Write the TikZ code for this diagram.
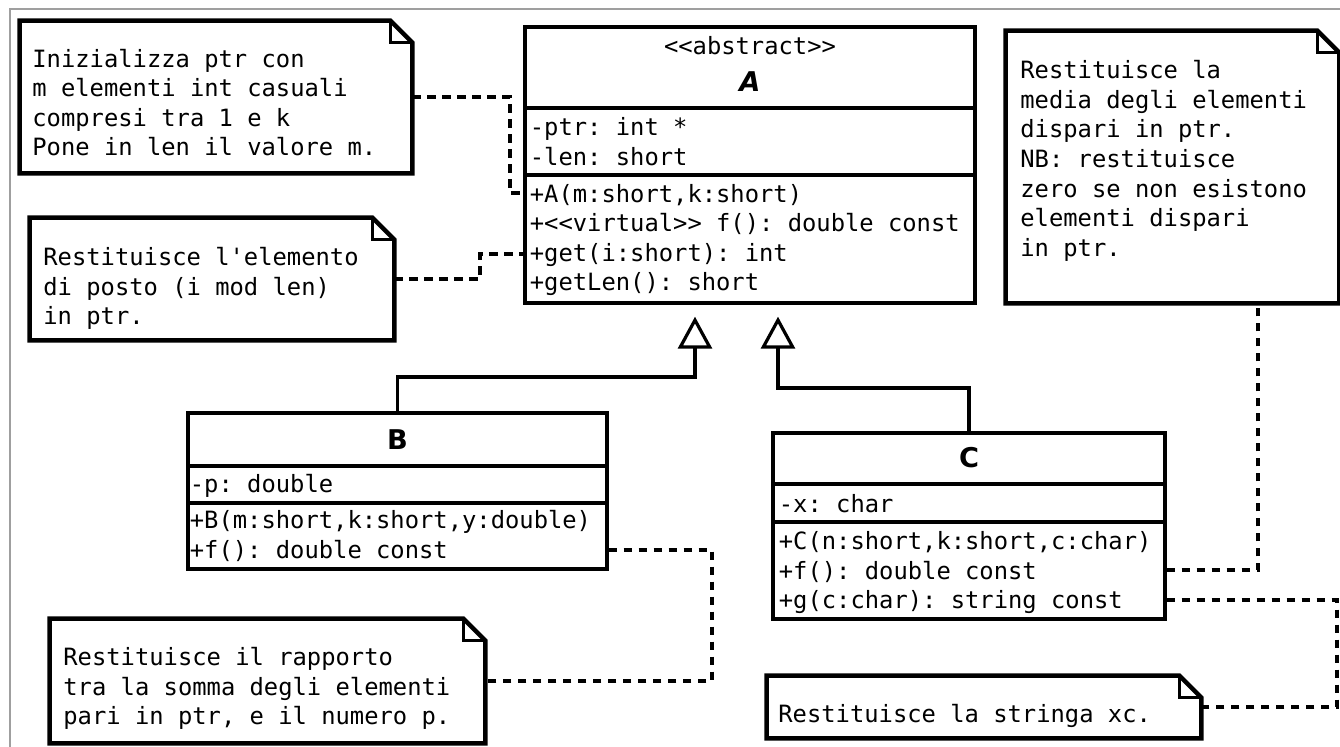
\documentclass[tikz,border=0pt]{standalone}
\usepackage{fontspec}
\setmonofont{DejaVu Sans Mono}
\newfontfamily\titlefam{DejaVu Sans}[BoldFont={DejaVu Sans Bold},ItalicFont={DejaVu Sans Oblique},BoldItalicFont={DejaVu Sans Bold Oblique}]
\usetikzlibrary{arrows.meta}
\newcommand\foldnote[1]{%
  \draw[noteline] (#1.north west) -- ([xshift=-11pt]#1.north east) -- ([yshift=-11pt]#1.north east) -- (#1.south east) -- (#1.south west) -- cycle;
  \draw[foldline] ([xshift=-11pt]#1.north east) |- ([yshift=-11pt]#1.north east);}
\begin{document}
\begin{tikzpicture}[x=0.5pt,y=-0.5pt,
  classbox/.style={draw, line width=1.7pt, fill=white, inner sep=0pt},
  notebox/.style={inner sep=0pt, fill=white},
  noteline/.style={line width=2.2pt, line join=miter},
  foldline/.style={line width=1.1pt},
  divider/.style={line width=1.7pt},
  txt/.style={inner sep=0pt, anchor=north west, align=left, font=\ttfamily\fontsize{11.9pt}{14.8pt}\selectfont},
  stereo/.style={inner sep=0pt, anchor=base, font=\ttfamily\fontsize{11.9pt}{14.8pt}\selectfont},
  cname/.style={inner sep=0pt, anchor=base, font=\titlefam\bfseries\fontsize{13.6pt}{16pt}\selectfont},
  conn/.style={line width=1.8pt, dash pattern=on 4.2pt off 3.3pt},
  inherit/.style={line width=1.6pt, -{Triangle[open, length=16pt, width=17pt]}, shorten >=6pt},
]
\useasboundingbox (0,0) rectangle (1340,747);
% outer frame
\draw[gray!75, line width=1pt] (9.5,747) -- (9.5,9.5) -- (1340,9.5);

% notes
\node[notebox, minimum width=196pt, minimum height=76pt] (N1) at (216,97) {};
\node[notebox, minimum width=182pt, minimum height=61pt] (N2) at (212,279) {};
\node[notebox, minimum width=166.5pt, minimum height=136pt] (NR) at (1172.5,167) {};
\node[notebox, minimum width=217.5pt, minimum height=62pt] (N3) at (267.5,681) {};
\node[notebox, minimum width=217pt, minimum height=31pt] (N4) at (984,707) {};
\foldnote{N1}\foldnote{N2}\foldnote{NR}\foldnote{N3}\foldnote{N4}

% classes
\node[classbox, minimum width=225pt, minimum height=138pt] (A) at (750,165) {};
\node[classbox, minimum width=209.5pt, minimum height=78pt] (B) at (397.5,491) {};
\node[classbox, minimum width=196pt, minimum height=93pt] (C) at (969,526) {};
\draw[divider] (A.west |- 0,108) -- (A.east |- 0,108);
\draw[divider] (A.west |- 0,175) -- (A.east |- 0,175);
\draw[divider] (B.west |- 0,466) -- (B.east |- 0,466);
\draw[divider] (B.west |- 0,503) -- (B.east |- 0,503);
\draw[divider] (C.west |- 0,484) -- (C.east |- 0,484);
\draw[divider] (C.west |- 0,522) -- (C.east |- 0,522);

% class texts
\node[stereo] (Ast) at (750,55) {<<abstract>>};
\node[cname, font=\titlefam\bfseries\itshape\fontsize{13.6pt}{16pt}\selectfont] (Aname) at (750,92) {A};
\node[txt] (Aattr) at (529.5,114.3) {\strut-ptr: int *\\-len: short};
\node[txt] (Ameth) at (529.5,181) {\strut+A(m:short,k:short)\\+<<virtual>> f(): double const\\+get(i:short): int\\+getLen(): short};
\node[cname] (Bname) at (397.5,449.5) {B};
\node[txt] (Battr) at (189.5,471) {\strut-p: double};
\node[txt] (Bmeth) at (189.5,507.6) {\strut+B(m:short,k:short,y:double)\\+f(): double const};
\node[cname] (Cname) at (969,468) {C};
\node[txt] (Cattr) at (778.5,491) {\strut-x: char};
\node[txt] (Cmeth) at (778.5,528.3) {\strut+C(n:short,k:short,c:char)\\+f(): double const\\+g(c:char): string const};

% note texts
\node[txt] (N1t) at (32,46) {\strut Inizializza ptr con\\m elementi int casuali\\compresi tra 1 e k\\Pone in len il valore m.};
\node[txt] (N2t) at (43,244.3) {\strut Restituisce l'elemento\\di posto (i mod len)\\in ptr.};
\node[txt] (NRt) at (1020,57.6) {\strut Restituisce la\\media degli elementi\\dispari in ptr.\\NB: restituisce\\zero se non esistono\\elementi dispari\\in ptr.};
\node[txt] (N3t) at (63,644.3) {\strut Restituisce il rapporto\\tra la somma degli elementi\\pari in ptr, e il numero p.};
\node[txt] (N4t) at (778,701) {\strut Restituisce la stringa xc.};

% note connectors
\coordinate (k1) at (510,193);
\coordinate (k2) at (480,254);
\coordinate (k3) at (712,550);
\coordinate (k4) at (1258,570);
\coordinate (k5) at (1337,600);
\draw[conn] (N1.east) -| (k1) -- (k1 -| A.west);
\draw[conn] (N2.east) -| (k2) -- (k2 -| A.west);
\draw[conn] (k3 -| B.east) -- (k3) |- (N3.east);
\draw[conn] (k4 -| C.east) -- (k4) -- (k4 |- NR.south);
\draw[conn] (k5 -| C.east) -- (k5) |- (N4.east);

% inheritance
\coordinate (bB) at (695,377);
\coordinate (bC) at (778,388);
\draw[inherit] (B.north) |- (bB) -- (bB |- A.south);
\draw[inherit] (C.north) |- (bC) -- (bC |- A.south);
\end{tikzpicture}
\end{document}
